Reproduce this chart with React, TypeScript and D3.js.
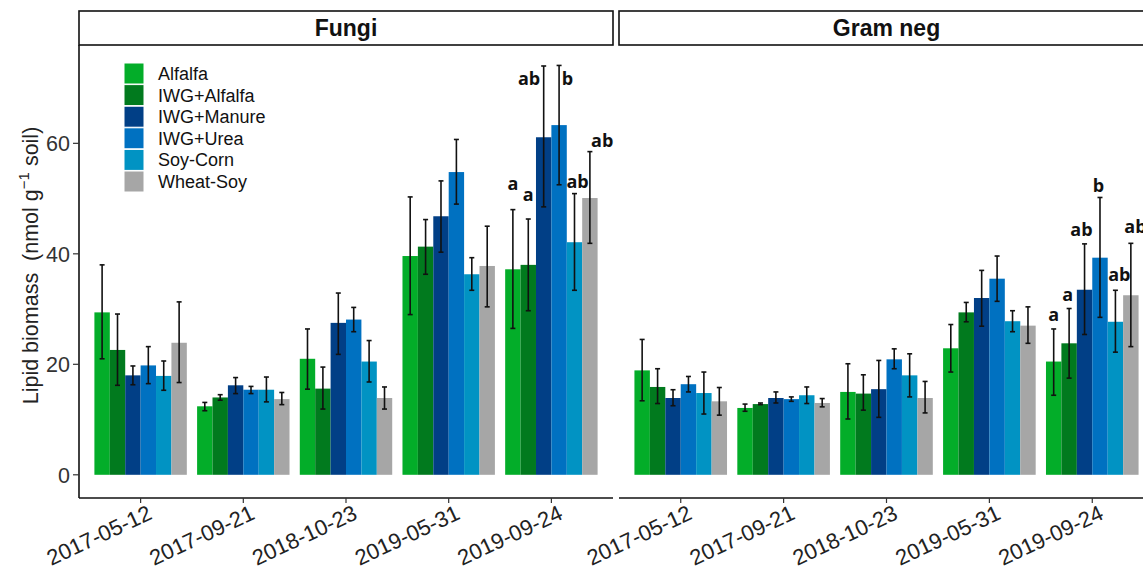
import React, { useEffect } from "react";
import * as d3 from "d3";

// treatments (legend order) and sampling dates
const treatments = ["Alfalfa", "IWG+Alfalfa", "IWG+Manure", "IWG+Urea", "Soy-Corn", "Wheat-Soy"];
const dates = ["2017-05-12", "2017-09-21", "2018-10-23", "2019-05-31", "2019-09-24"];
const panels = ["Fungi", "Gram neg"];
const yTicks = [0, 20, 40, 60];

// fungi, rows = dates, cols = treatments
const fungiMean = [
  [29.4, 22.6, 18.0, 19.8, 17.9, 23.9],
  [12.4, 14.0, 16.2, 15.4, 15.4, 13.7],
  [21.0, 15.6, 27.5, 28.1, 20.5, 13.9],
  [39.6, 41.3, 46.8, 54.8, 36.3, 37.8],
  [37.2, 38.0, 61.1, 63.3, 42.1, 50.1],
];
const fungiHigh = [
  [38.0, 29.1, 19.7, 23.2, 20.6, 31.3],
  [13.1, 14.5, 17.6, 16.0, 17.7, 14.9],
  [26.4, 19.5, 32.9, 30.3, 24.3, 15.9],
  [50.3, 46.2, 53.2, 60.7, 39.3, 45.0],
  [48.0, 46.3, 74.0, 74.1, 50.9, 58.5],
];
const fungiLow = [
  [21.0, 16.2, 16.3, 16.5, 15.3, 16.7],
  [11.6, 13.5, 14.7, 14.7, 13.2, 12.7],
  [15.5, 11.9, 21.8, 25.9, 16.8, 11.9],
  [29.0, 36.3, 40.3, 49.0, 33.4, 30.4],
  [26.5, 29.7, 48.5, 52.5, 33.4, 41.9],
];

// gram negative bacteria
const gramMean = [
  [18.9, 15.9, 13.9, 16.4, 14.8, 13.3],
  [12.1, 12.8, 13.9, 13.7, 14.4, 13.0],
  [15.0, 14.7, 15.5, 20.9, 18.0, 13.9],
  [22.9, 29.4, 32.0, 35.5, 27.8, 27.0],
  [20.5, 23.8, 33.5, 39.3, 27.7, 32.5],
];
const gramHigh = [
  [24.5, 19.2, 15.4, 17.8, 18.6, 15.8],
  [12.8, 13.0, 15.0, 14.1, 15.9, 13.8],
  [20.1, 18.1, 20.7, 22.8, 21.9, 16.9],
  [27.2, 31.2, 37.0, 39.6, 29.7, 30.4],
  [26.4, 30.1, 41.8, 50.2, 33.4, 41.9],
];
const gramLow = [
  [13.4, 12.9, 12.5, 15.0, 11.0, 10.8],
  [11.5, 12.7, 13.0, 13.3, 12.9, 12.3],
  [10.1, 11.7, 10.4, 19.2, 14.1, 11.2],
  [18.6, 27.7, 26.9, 31.4, 25.9, 23.8],
  [14.4, 17.5, 25.4, 28.5, 22.2, 23.2],
];

// significance letters for the last date, and the height they sit at
const letterDate = "2019-09-24";
const fungiLetters = ["a", "a", "ab", "b", "ab", "ab"];
const fungiLetterY = [51.5, 49.6, 70.5, 70.6, 51.9, 59.3];
const gramLetters = ["a", "a", "ab", "b", "ab", "ab"];
const gramLetterY = [27.9, 31.4, 43.2, 51.2, 35.1, 43.7];

const colors = ["#03AD29", "#017A1E", "#013F86", "#0071C1", "#0193C3", "#A6A6A6"];

// layout
const W = 1143;
const H = 576;
const panelRange = [[79, 613], [619, 1154]];
const stripTop = 11;
const plotTop = 45;
const plotBottom = 498;
// letter nudges in bar widths (to dodge the error bar lines)
const letterNudge = [
  [0, 0, -0.95, 0.55, 0.2, 0.8],
  [0, -0.1, -0.2, -0.1, 0.25, 0.3],
];

const series = [
  { mean: fungiMean, low: fungiLow, high: fungiHigh, letters: fungiLetters, letterY: fungiLetterY },
  { mean: gramMean, low: gramLow, high: gramHigh, letters: gramLetters, letterY: gramLetterY },
];

const FONT = "'Liberation Sans', Arial, sans-serif";

export default function App() {
  useEffect(() => {
    document.body.style.margin = "0";
  }, []);

  const y = d3.scaleLinear().domain([-4.2, 77.8]).range([plotBottom, plotTop]);

  return (
    <svg width={W} height={H} style={{ display: "block", background: "#fff" }} fontFamily={FONT}>
      {panels.map((name, p) => {
        const [x0, x1] = panelRange[p];
        const x = d3.scaleBand().domain(dates).range([x0, x1]).paddingInner(0).paddingOuter(0.1);
        const step = x.step();
        const xt = d3.scaleBand().domain(treatments).range([step * 0.05, step * 0.95]);
        const bw = xt.bandwidth();
        const s = series[p];
        return (
          <g key={name}>
            {/* strip */}
            <rect x={x0} y={stripTop} width={x1 - x0} height={plotTop - stripTop} fill="#fff" stroke="#111" strokeWidth={1.6} />
            <text x={(x0 + x1) / 2} y={(stripTop + plotTop) / 2} dy="0.36em" textAnchor="middle" fontSize={23} fontWeight="bold" fill="#111">
              {name}
            </text>

            {/* bars */}
            {dates.map((d, di) => (
              <g key={d} transform={`translate(${x(d)},0)`}>
                {treatments.map((t, ti) => (
                  <rect key={t} x={xt(t)} y={y(s.mean[di][ti])} width={bw} height={y(0) - y(s.mean[di][ti])} fill={colors[ti]} />
                ))}
                {treatments.map((t, ti) => {
                  const cx = (xt(t) as number) + bw / 2;
                  return (
                    <g key={t} stroke="#111" strokeWidth={1.6}>
                      <line x1={cx} x2={cx} y1={y(s.low[di][ti])} y2={y(s.high[di][ti])} />
                      <line x1={cx - 2.5} x2={cx + 2.5} y1={y(s.low[di][ti])} y2={y(s.low[di][ti])} />
                      <line x1={cx - 2.5} x2={cx + 2.5} y1={y(s.high[di][ti])} y2={y(s.high[di][ti])} />
                    </g>
                  );
                })}
                {d === letterDate &&
                  treatments.map((t, ti) => (
                    <text
                      key={t}
                      x={(xt(t) as number) + bw / 2 + letterNudge[p][ti] * bw}
                      y={y(s.letterY[ti])}
                      textAnchor="middle"
                      fontFamily="'Open Sans', sans-serif"
                      fontWeight="bold"
                      fontSize={18}
                      fill="#111"
                    >
                      {s.letters[ti]}
                    </text>
                  ))}
              </g>
            ))}

            {/* x axis */}
            <line x1={x0} x2={x1} y1={plotBottom} y2={plotBottom} stroke="#111" strokeWidth={1.6} />
            {dates.map((d) => {
              const cx = (x(d) as number) + step / 2;
              return (
                <g key={d}>
                  <line x1={cx} x2={cx} y1={plotBottom} y2={plotBottom + 5} stroke="#333" strokeWidth={1.2} />
                  <text
                    transform={`translate(${cx + 6},${plotBottom + 6}) rotate(-25)`}
                    textAnchor="end"
                    dy="0.72em"
                    fontSize={22}
                    fill="#222"
                  >
                    {d}
                  </text>
                </g>
              );
            })}
          </g>
        );
      })}

      {/* y axis */}
      <line x1={panelRange[0][0]} x2={panelRange[0][0]} y1={plotTop} y2={plotBottom} stroke="#111" strokeWidth={1.6} />
      {yTicks.map((v) => (
        <g key={v}>
          <line x1={panelRange[0][0] - 6} x2={panelRange[0][0]} y1={y(v)} y2={y(v)} stroke="#333" strokeWidth={1.2} />
          <text x={panelRange[0][0] - 9} y={y(v)} dy="0.36em" textAnchor="end" fontSize={21.5} fill="#333">
            {v}
          </text>
        </g>
      ))}
      <text transform={`translate(30,${(plotTop + plotBottom) / 2 - 6}) rotate(-90)`} textAnchor="middle" dy="0.36em" fontSize={21.5} fill="#222">
        Lipid biomass{"\u00a0\u00a0"}(nmol g
        <tspan fontSize={15} dy="-0.6em">{"\u2212"}1</tspan>
        <tspan dy="0.42em"> soil)</tspan>
      </text>

      {/* legend */}
      <g transform="translate(124,63)">
        {treatments.map((t, i) => (
          <g key={t} transform={`translate(0,${i * 21.6})`}>
            <rect width={20} height={21} fill={colors[i]} stroke="#fff" strokeWidth={1} />
            <text x={34} y={10.5} dy="0.36em" fontSize={18} fill="#111">
              {t}
            </text>
          </g>
        ))}
      </g>
    </svg>
  );
}
